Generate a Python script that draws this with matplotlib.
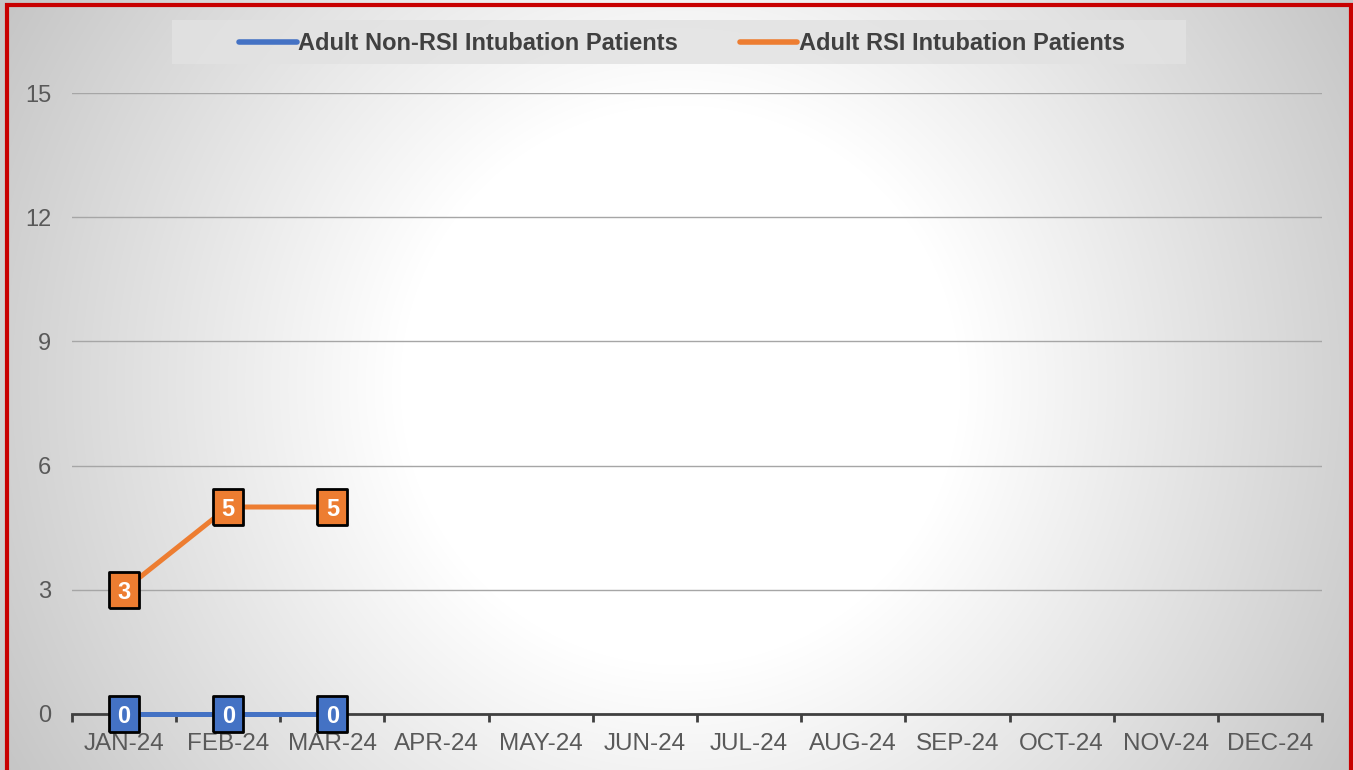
import numpy as np
import matplotlib.pyplot as plt
from matplotlib.patches import Rectangle

months = ["JAN-24", "FEB-24", "MAR-24", "APR-24", "MAY-24", "JUN-24",
          "JUL-24", "AUG-24", "SEP-24", "OCT-24", "NOV-24", "DEC-24"]
non_rsi = [0, 0, 0]
rsi = [3, 5, 5]
yticks = [0, 3, 6, 9, 12, 15]

blue = "#4472c4"
orange = "#ed7d31"

plt.rcParams['font.family'] = ['Liberation Sans', 'DejaVu Sans']

W, H = 1353, 770
fig = plt.figure(figsize=(W / 100, H / 100), dpi=100)

# radial grey-to-white background on its own axes
bgax = fig.add_axes([0, 0, 1, 1], zorder=-1)
yy, xx = np.mgrid[0:H, 0:W]
r = np.hypot(xx - 680, yy - 385)
shade = np.clip(255 - (r - 280) / (780 - 280) * 58, 197, 255) / 255
bgax.imshow(np.dstack([shade, shade, shade]), aspect="auto",
            extent=(0, 1, 0, 1), interpolation="bilinear")
bgax.set_xlim(0, 1)
bgax.set_ylim(0, 1)
bgax.axis("off")

# legend band
bgax.add_patch(Rectangle((172 / W, 1 - 64 / H), (1186 - 172) / W, 44 / H,
                         facecolor="#e2e2e2", edgecolor="none", alpha=0.85))
# red outer border
bgax.add_patch(Rectangle((7 / W, -0.05), (1351 - 7) / W, 1.05 - 5 / H,
                         facecolor="none", edgecolor="#c80000", lw=3,
                         clip_on=False))

ax = fig.add_axes([72 / W, 1 - 714 / H, (1322 - 72) / W, (714 - 93) / H])
ax.set_facecolor("none")

# tall rectangular label boxes
box = [(-31, -37), (31, -37), (31, 37), (-31, 37), (-31, -37)]

x = np.arange(len(months))
ax.plot(x[:len(non_rsi)], non_rsi, color=blue, lw=3.6, marker=box, ms=26,
        mfc=blue, mec="black", mew=2, zorder=5, clip_on=False,
        label="Adult Non-RSI Intubation Patients")
ax.plot(x[:len(rsi)], rsi, color=orange, lw=3.6, marker=box, ms=26,
        mfc=orange, mec="black", mew=2, zorder=5, clip_on=False,
        label="Adult RSI Intubation Patients")
for series in (non_rsi, rsi):
    for i, v in enumerate(series):
        ax.text(i, v, str(v), color="white", fontsize=17, fontweight="bold",
                ha="center", va="center_baseline", zorder=6)

ax.set_xlim(-0.5, len(months) - 0.5)
ax.set_ylim(0, 15)
ax.set_yticks(yticks)
ax.yaxis.grid(True, color="#a6a6a6", lw=1)
ax.set_axisbelow(True)

ax.set_xticks(np.arange(-0.5, len(months), 1))
ax.set_xticklabels([])
ax.set_xticks(x, minor=True)
ax.set_xticklabels(months, minor=True)
ax.tick_params(axis="x", which="major", length=6, width=2, color="#404040", direction="out")
ax.tick_params(axis="x", which="minor", length=0, pad=14, labelsize=17.5, labelcolor="#595959")
ax.tick_params(axis="y", length=0, pad=15, labelsize=17, labelcolor="#595959")

for s in ("top", "right", "left"):
    ax.spines[s].set_visible(False)
ax.spines["bottom"].set_color("#404040")
ax.spines["bottom"].set_linewidth(2)

leg = ax.legend(loc="center", bbox_to_anchor=(682 / W, 1 - 44 / H),
                bbox_transform=fig.transFigure, ncol=2, frameon=False,
                handlelength=2.45, handletextpad=0.05, columnspacing=2.6,
                prop={"weight": "bold", "size": 17})
for t in leg.get_texts():
    t.set_color("#404040")
for h in leg.get_lines():
    h.set_marker("")
    h.set_linewidth(4)
    h.set_solid_capstyle("round")

fig.savefig("out.png", dpi=100)
